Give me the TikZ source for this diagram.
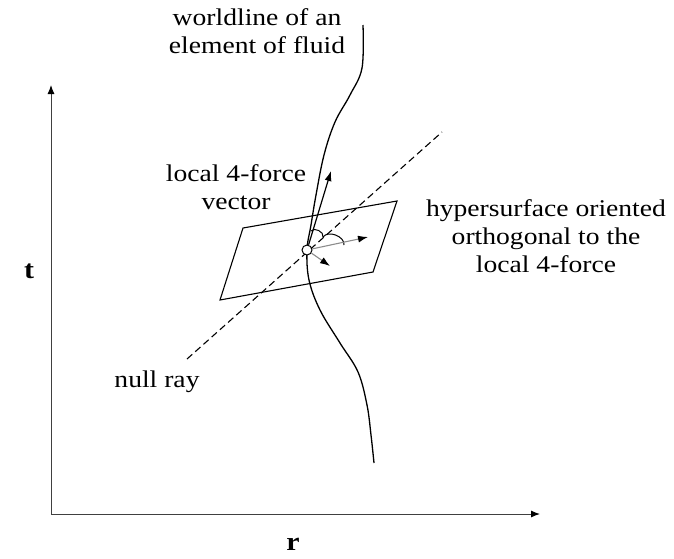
\documentclass[tikz,border=0pt]{standalone}
\usepackage{fontspec}
\setmainfont{Liberation Serif}[FakeStretch=1.15]
\usetikzlibrary{arrows, arrows.meta}
\tikzstyle{axis} = [
    draw=black!75,
    line width=1pt,
    -{Latex[black, length=9pt, width=7pt]}
]
\tikzstyle{axislabel} = [
    font=\fontsize{26}{30}\selectfont\bfseries,
    inner sep=0pt
]
\tikzstyle{textlabel} = [
    font=\fontsize{24}{28}\selectfont,
    align=center,
    inner sep=0pt
]
\tikzstyle{surface} = [draw=black, line width=1.1pt]
\tikzstyle{nullray} = [draw=black, line width=1.1pt, dash pattern=on 7pt off 4pt]
\tikzstyle{worldline} = [draw=black, line width=1.3pt]
\tikzstyle{event} = [
    circle,
    minimum size=10pt,
    inner sep=0pt,
    draw=black,
    fill=white,
    line width=1pt
]
\tikzstyle{arrow} = [line width=1.2pt, -{Latex[length=10pt, width=7pt]}]
\tikzstyle{grayarrow} = [draw=black!45, line width=1.1pt, -{Latex[black, length=10pt, width=7pt]}]
\tikzstyle{anglemark} = [draw=black, line width=1pt]

\begin{document}
\begin{tikzpicture}[x=1pt, y=-1pt]
\useasboundingbox (0,0) rectangle (674,558);

% axes
\coordinate (origin) at (51,514);
\coordinate (tmax) at (51,85);
\coordinate (rmax) at (540,514);
\draw [axis] (origin) -- (tmax);
\draw [axis] (origin) -- (rmax);
\node (tlab) [axislabel] at (29,271) {t};
\node (rlab) [axislabel] at (293,544) {r};

% hypersurface
\coordinate (h1) at (243,228);
\coordinate (h2) at (397,201);
\coordinate (h3) at (373,272);
\coordinate (h4) at (220,300);
\draw [surface] (h1) -- (h2) -- (h3) -- (h4) -- cycle;

% null ray
\coordinate (nullstart) at (187,359);
\coordinate (nullend) at (442,132);
\draw [nullray] (nullstart) -- (nullend);

% worldline
\coordinate (here) at (307,250);
\draw [worldline] plot [smooth, tension=0.6] coordinates {
    (363,25) (362,68) (350,95) (335,122) (324,155) (316,195) (311,225)
    (here) (309,280) (320,310) (340,343) (358,372) (367,405) (371,435) (374,463)};

% angle marks
\coordinate (m1) at (311,231);
\coordinate (m2) at (323,237);
\coordinate (m3) at (344,245);
\draw [anglemark] (m1) to[bend left=80] (m2);
\draw [anglemark] (m2) to[bend left=75] (m3);

% vectors at the event
\node (event) [event] at (here) {};
\coordinate (force) at (331,171);
\coordinate (inplane) at (368,237);
\coordinate (normal) at (330,266);
\draw [arrow] (event) -- (force);
\draw [grayarrow] (event) -- (inplane);
\draw [grayarrow] (event) -- (normal);

% labels
\node (wltext) [textlabel] at (257,31) {worldline of an\\element of fluid};
\node (forcetext) [textlabel] at (236,187) {local 4-force\\vector};
\node (surftext) [textlabel] at (546,236) {hypersurface oriented\\orthogonal to the\\local 4-force};
\node (nulltext) [textlabel] at (157,382) {null ray};

\end{tikzpicture}
\end{document}
